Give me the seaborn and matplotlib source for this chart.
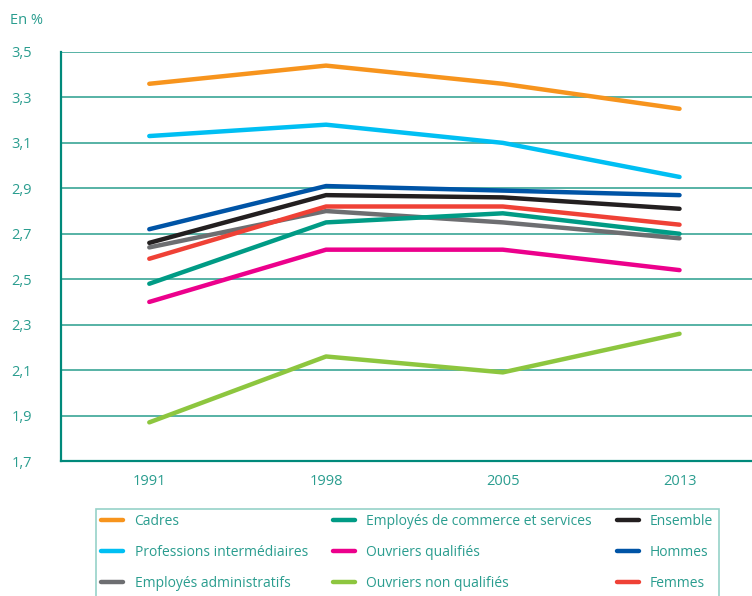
import numpy as np
import pandas as pd
import matplotlib.pyplot as plt
import seaborn as sns

annees = ['1991', '1998', '2005', '2013']

cadres = [3.36, 3.44, 3.36, 3.25]
prof_inter = [3.13, 3.18, 3.10, 2.95]
empl_admin = [2.64, 2.80, 2.75, 2.68]
empl_commerce = [2.48, 2.75, 2.79, 2.70]
ouvr_qual = [2.40, 2.63, 2.63, 2.54]
ouvr_non_qual = [1.87, 2.16, 2.09, 2.26]
ensemble = [2.66, 2.87, 2.86, 2.81]
hommes = [2.72, 2.91, 2.89, 2.87]
femmes = [2.59, 2.82, 2.82, 2.74]

series = {
    'Cadres': cadres,
    'Professions intermédiaires': prof_inter,
    'Employés administratifs': empl_admin,
    'Employés de commerce et services': empl_commerce,
    'Ouvriers qualifiés': ouvr_qual,
    'Ouvriers non qualifiés': ouvr_non_qual,
    'Ensemble': ensemble,
    'Hommes': hommes,
    'Femmes': femmes,
}

couleurs = {
    'Cadres': '#f7941d',
    'Professions intermédiaires': '#00bff3',
    'Employés administratifs': '#6d6e71',
    'Employés de commerce et services': '#009b85',
    'Ouvriers qualifiés': '#ec008c',
    'Ouvriers non qualifiés': '#8dc63f',
    'Ensemble': '#231f20',
    'Hommes': '#0054a6',
    'Femmes': '#ef4136',
}

rows = []
for nom, vals in series.items():
    for a, v in zip(annees, vals):
        rows.append({'annee': a, 'valeur': v, 'serie': nom})
df = pd.DataFrame(rows)

sns.set_style('white')
plt.rcParams['font.family'] = ['Open Sans', 'DejaVu Sans']
teal = '#2a9d8f'
axe_c = '#00897b'
grid_c = '#3aa596'

fig = plt.figure(figsize=(7.52, 5.96), dpi=100)
ax = fig.add_axes([0.081, 0.2265, 0.919, 0.6863])

# grille d'abord, derriere les courbes
for y in np.arange(1.7, 3.51, 0.2):
    ax.axhline(y, color=grid_c, lw=1.2, zorder=0)

sns.lineplot(data=df, x='annee', y='valeur', hue='serie', palette=couleurs,
             hue_order=list(series.keys()), linewidth=3.2, legend=False,
             sort=False, ax=ax, zorder=3)

ax.set_ylim(1.7, 3.5)
ax.set_xlim(-0.5, 3.41)
ax.set_yticks(np.arange(1.7, 3.51, 0.2))
ax.set_yticklabels([f'{v:.1f}'.replace('.', ',') for v in np.arange(1.7, 3.51, 0.2)])
ax.set_xticks([-0.5, 0.5, 1.5, 2.5], minor=True)
ax.set_xlabel('')
ax.set_ylabel('')
for s in ['top', 'right']:
    ax.spines[s].set_visible(False)
for s in ['left', 'bottom']:
    ax.spines[s].set_color(axe_c)
    ax.spines[s].set_linewidth(1.6)
ax.tick_params(axis='y', colors=axe_c, labelcolor=teal, length=4, width=1.2,
               labelsize=10.5, pad=17)
ax.tick_params(axis='x', which='major', length=0, labelcolor=teal,
               labelsize=10.5, pad=9)
ax.tick_params(axis='x', which='minor', colors=axe_c, length=3, width=1.2)

fig.text(0.013, 0.966, 'En %', color=teal, fontsize=10.5, va='center')

handles = [plt.Line2D([], [], color=couleurs[n], lw=3.2) for n in series]
leg = fig.legend(handles, list(series.keys()), ncol=3, loc='upper left',
                 bbox_to_anchor=(0.118, 0.158), frameon=True, fontsize=10,
                 handlelength=1.6, handletextpad=0.8, columnspacing=1.8,
                 labelspacing=1.15, borderpad=0.4, fancybox=False)
leg.get_frame().set_edgecolor('#7cc6bb')
leg.get_frame().set_linewidth(1.2)
for t in leg.get_texts():
    t.set_color(teal)

plt.savefig('out.png', dpi=100)
